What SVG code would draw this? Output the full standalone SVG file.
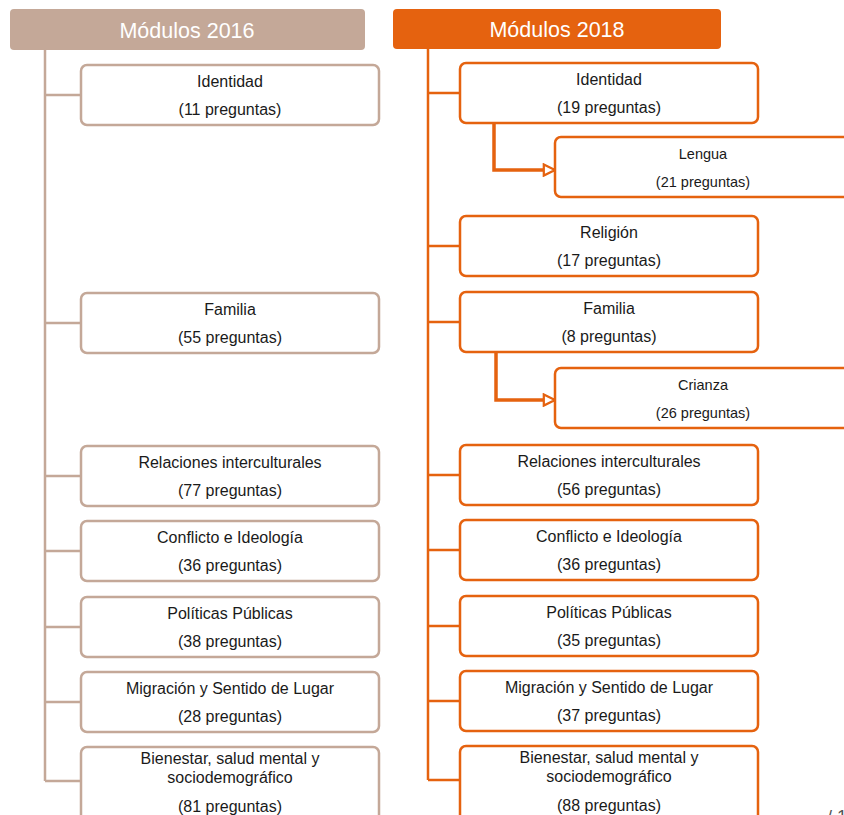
<svg xmlns="http://www.w3.org/2000/svg" width="844" height="815" viewBox="0 0 844 815">
<defs>
<style>
.hdr{font-family:"Liberation Sans",Arial,sans-serif;font-size:21.5px;fill:#ffffff;text-anchor:middle}
.t{font-family:"Liberation Sans",Arial,sans-serif;font-size:16px;fill:#1a1a1a;text-anchor:middle}
.ts{font-family:"Liberation Sans",Arial,sans-serif;font-size:14.5px;fill:#1a1a1a;text-anchor:middle}
.bl{fill:#ffffff;stroke:#C4A898;stroke-width:2.5}
.br{fill:#ffffff;stroke:#E5620F;stroke-width:2.5}
.cl{fill:none;stroke:#C4A898;stroke-width:2.5}
.cr{fill:none;stroke:#E5620F;stroke-width:2.5}
.ca{fill:none;stroke:#E5620F;stroke-width:3.5}
</style>
<marker id="arr" viewBox="0 0 10 10" refX="9" refY="5" markerWidth="4" markerHeight="4" orient="auto" markerUnits="strokeWidth">
<path d="M1,1 L9,5 L1,9 Z" fill="#ffffff" stroke="#E5620F" stroke-width="1.6"/>
</marker>
</defs>
<rect width="844" height="815" fill="#ffffff"/>

<g id="connectors">
<path class="cl" d="M45,50 V781 M45,95 H81 M45,323 H81 M45,476 H81 M45,551 H81 M45,627 H81 M45,702 H81 M45,781 H81"/>
<path class="cr" d="M428,49 V780 M428,93 H460 M428,246 H460 M428,322 H460 M428,475 H460 M428,550 H460 M428,626 H460 M428,701 H460 M428,780 H460"/>
<path class="ca" d="M494,123 V170 H555" marker-end="url(#arr)"/>
<path class="ca" d="M496,352 V400 H555" marker-end="url(#arr)"/>
</g>

<g id="hdr2016"><rect x="10" y="9" width="355" height="41" rx="4" fill="#C4A898"/><text class="hdr" x="187" y="38">Módulos 2016</text></g>
<g id="hdr2018"><rect x="393" y="9" width="328" height="40" rx="4" fill="#E5620F"/><text class="hdr" x="557" y="37">Módulos 2018</text></g>

<g id="l-identidad"><rect class="bl" x="81" y="65" width="298" height="60" rx="6"/><text class="t" x="230" y="87">Identidad</text><text class="t" x="230" y="115">(11 preguntas)</text></g>
<g id="l-familia"><rect class="bl" x="81" y="293" width="298" height="60" rx="6"/><text class="t" x="230" y="315">Familia</text><text class="t" x="230" y="343">(55 preguntas)</text></g>
<g id="l-relaciones"><rect class="bl" x="81" y="446" width="298" height="60" rx="6"/><text class="t" x="230" y="468">Relaciones interculturales</text><text class="t" x="230" y="496">(77 preguntas)</text></g>
<g id="l-conflicto"><rect class="bl" x="81" y="521" width="298" height="60" rx="6"/><text class="t" x="230" y="543">Conflicto e Ideología</text><text class="t" x="230" y="571">(36 preguntas)</text></g>
<g id="l-politicas"><rect class="bl" x="81" y="597" width="298" height="60" rx="6"/><text class="t" x="230" y="619">Políticas Públicas</text><text class="t" x="230" y="647">(38 preguntas)</text></g>
<g id="l-migracion"><rect class="bl" x="81" y="672" width="298" height="60" rx="6"/><text class="t" x="230" y="694">Migración y Sentido de Lugar</text><text class="t" x="230" y="722">(28 preguntas)</text></g>
<g id="l-bienestar"><rect class="bl" x="81" y="747" width="298" height="80" rx="6"/><text class="t" x="230" y="764">Bienestar, salud mental y</text><text class="t" x="230" y="783">sociodemográfico</text><text class="t" x="230" y="812">(81 preguntas)</text></g>

<g id="r-identidad"><rect class="br" x="460" y="63" width="298" height="60" rx="6"/><text class="t" x="609" y="85">Identidad</text><text class="t" x="609" y="113">(19 preguntas)</text></g>
<g id="r-lengua"><rect class="br" x="555" y="137" width="296" height="60" rx="6"/><text class="ts" x="703" y="159">Lengua</text><text class="ts" x="703" y="187">(21 preguntas)</text></g>
<g id="r-religion"><rect class="br" x="460" y="216" width="298" height="60" rx="6"/><text class="t" x="609" y="238">Religión</text><text class="t" x="609" y="266">(17 preguntas)</text></g>
<g id="r-familia"><rect class="br" x="460" y="292" width="298" height="60" rx="6"/><text class="t" x="609" y="314">Familia</text><text class="t" x="609" y="342">(8 preguntas)</text></g>
<g id="r-crianza"><rect class="br" x="555" y="368" width="296" height="60" rx="6"/><text class="ts" x="703" y="390">Crianza</text><text class="ts" x="703" y="418">(26 preguntas)</text></g>
<g id="r-relaciones"><rect class="br" x="460" y="445" width="298" height="60" rx="6"/><text class="t" x="609" y="467">Relaciones interculturales</text><text class="t" x="609" y="495">(56 preguntas)</text></g>
<g id="r-conflicto"><rect class="br" x="460" y="520" width="298" height="60" rx="6"/><text class="t" x="609" y="542">Conflicto e Ideología</text><text class="t" x="609" y="570">(36 preguntas)</text></g>
<g id="r-politicas"><rect class="br" x="460" y="596" width="298" height="60" rx="6"/><text class="t" x="609" y="618">Políticas Públicas</text><text class="t" x="609" y="646">(35 preguntas)</text></g>
<g id="r-migracion"><rect class="br" x="460" y="671" width="298" height="60" rx="6"/><text class="t" x="609" y="693">Migración y Sentido de Lugar</text><text class="t" x="609" y="721">(37 preguntas)</text></g>
<g id="r-bienestar"><rect class="br" x="460" y="746" width="298" height="80" rx="6"/><text class="t" x="609" y="763">Bienestar, salud mental y</text><text class="t" x="609" y="782">sociodemográfico</text><text class="t" x="609" y="811">(88 preguntas)</text></g>

<text x="827" y="823" font-family="Liberation Sans,Arial,sans-serif" font-size="18" fill="#555555">/ 1</text>
</svg>
